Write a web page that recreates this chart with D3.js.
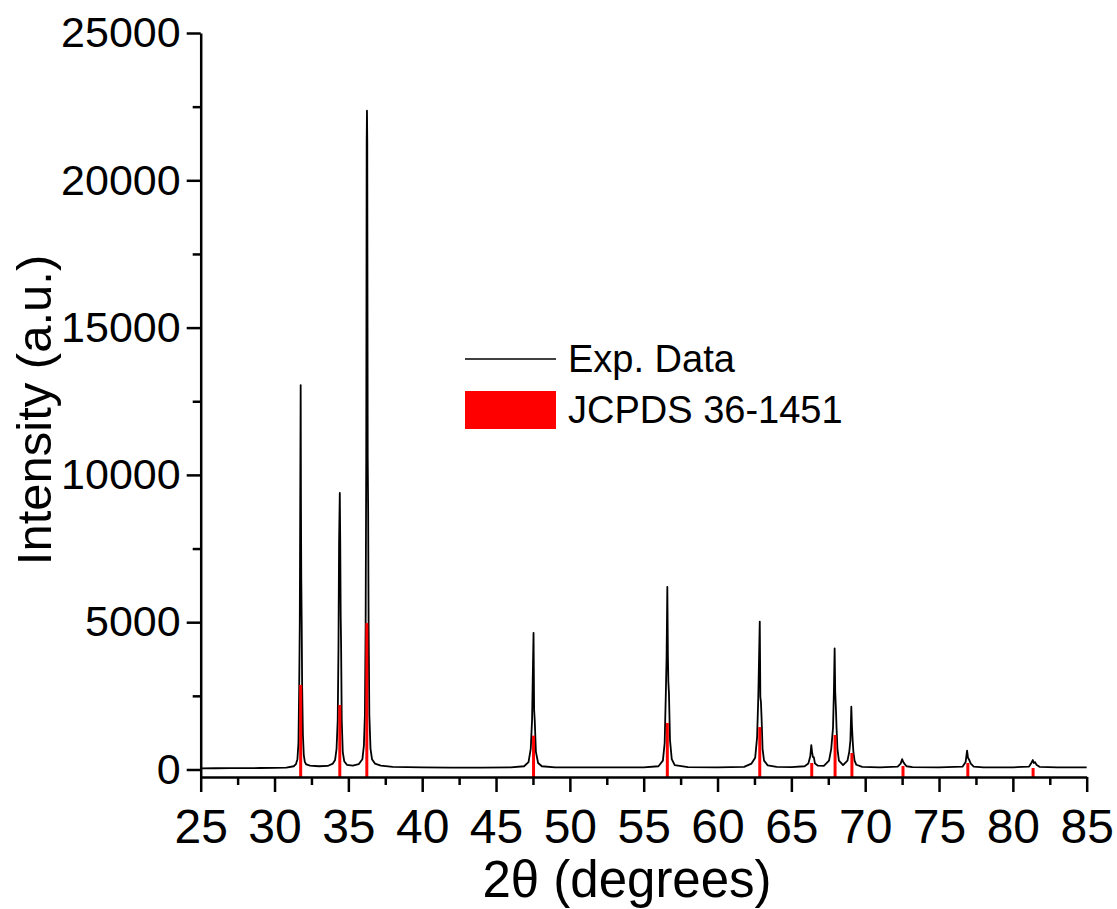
<!DOCTYPE html>
<html lang="en">
<head>
<meta charset="UTF-8">
<title>XRD pattern</title>
<script src="https://d3js.org/d3.v7.min.js"></script>
<style>
  body { margin: 0; background: #fff; }
  text { font-family: "Liberation Sans", Arial, sans-serif; fill: #000; }
</style>
</head>
<body>
<svg id="chart" width="1117" height="909"></svg>
<script>
  // measured pattern, 2theta (deg) and counts
  var twoTheta = [25, 26, 27, 28, 29, 30, 30.8, 31.3,
    31.45, 31.55, 31.62, 31.67, 31.71, 31.74, 31.77, 31.79, 31.81, 31.84, 31.87, 31.92, 31.98, 32.05, 32.15, 32.4, 33.0, 33.6, 33.95,
    34.1, 34.2, 34.28, 34.33, 34.37, 34.42, 34.45, 34.48, 34.51, 34.55, 34.62, 34.72, 34.9, 35.3, 35.7, 35.95,
    36.05, 36.12, 36.17, 36.21, 36.24, 36.26, 36.28, 36.31, 36.34, 36.37, 36.42, 36.5, 36.6, 36.8, 37.2, 38, 40, 42, 44, 46, 46.9,
    47.2, 47.35, 47.44, 47.5, 47.54, 47.58, 47.62, 47.7, 47.85, 48.1, 49, 51, 53, 55, 56,
    56.3, 56.42, 56.5, 56.55, 56.6, 56.64, 56.67, 56.71, 56.78, 56.9, 57.1, 58, 60, 61.8, 62.3,
    62.55, 62.68, 62.76, 62.82, 62.86, 62.9, 62.94, 62.98, 63.05, 63.15, 63.4, 64, 65, 65.9,
    66.15, 66.28, 66.35, 66.4, 66.46, 66.52, 66.6, 66.8, 67.2, 67.55,
    67.7, 67.82, 67.88, 67.93, 67.97, 68.02, 68.06, 68.12, 68.22, 68.5, 68.8,
    68.92, 69.0, 69.06, 69.1, 69.15, 69.2, 69.28, 69.4, 69.8, 71, 72.2,
    72.4, 72.5, 72.58, 72.65, 72.8, 73.2, 75, 76.6,
    76.8, 76.9, 76.96, 77.05, 77.15, 77.35, 78, 80, 81.1,
    81.25, 81.35, 81.42, 81.5, 81.6, 81.8, 83, 85];
  var counts = [40, 42, 45, 48, 50, 55, 65, 110,
    180, 350, 900, 2800, 5000, 9000, 13050, 9000, 6530, 4970, 2800, 1200, 500, 260, 170, 130, 110, 120, 200,
    320, 700, 1680, 4120, 7690, 9390, 7690, 5250, 4120, 1680, 600, 280, 160, 130, 180, 350,
    800, 1850, 4970, 10600, 21310, 22360, 21310, 10600, 8800, 4970, 1850, 700, 350, 200, 130, 90, 70, 65, 65, 70, 110,
    250, 700, 1680, 3500, 4640, 2020, 1680, 600, 220, 110, 75, 70, 70, 75, 110,
    300, 900, 2600, 3820, 6200, 3820, 2970, 2600, 1000, 350, 150, 80, 75, 90, 200,
    400, 1100, 2460, 4000, 5020, 2460, 2290, 1780, 700, 300, 140, 90, 80, 110,
    200, 450, 830, 600, 420, 420, 200, 130, 120, 300,
    700, 1410, 2640, 4110, 2640, 2020, 1410, 700, 300, 150, 300,
    600, 1000, 2130, 1500, 1000, 600, 300, 160, 90, 75, 100,
    200, 350, 250, 200, 110, 80, 75, 100,
    250, 640, 400, 320, 200, 100, 75, 75, 100,
    220, 320, 220, 250, 160, 90, 70, 70];

  // reference card lines (scaled)
  var refPos = [31.77, 34.42, 36.25, 47.54, 56.6, 62.86, 66.38, 67.96, 69.1, 72.56, 76.95, 81.37];
  var refInt = [2870, 2190, 4970, 1150, 1580, 1440, 220, 1170, 560, 120, 220, 50];

  var xMajor = d3.range(25, 86, 5);
  var xMinor = d3.range(27.5, 85, 5);
  var yMajor = [0, 5000, 10000, 15000, 20000, 25000];
  var yMinor = [2500, 7500, 12500, 17500, 22500];

  var svg = d3.select("#chart");
  var mLeft = 200.7, mRight = 1086.7, mTop = 33, mBottom = 777;

  var x = d3.scaleLinear().domain([25, 85]).range([mLeft, mRight]);
  var y = d3.scaleLinear().domain([-255, 25000]).range([mBottom, mTop]);

  var pts = twoTheta.map(function (t, i) { return [t, counts[i]]; });

  svg.append("path")
    .datum(pts)
    .attr("fill", "none")
    .attr("stroke", "#000")
    .attr("stroke-width", 1.8)
    .attr("stroke-linejoin", "round")
    .attr("d", d3.line()
      .x(function (d) { return x(d[0]); })
      .y(function (d) { return y(d[1]); }));

  svg.append("g")
    .selectAll("line")
    .data(refPos)
    .enter()
    .append("line")
    .attr("x1", function (d) { return x(d); })
    .attr("x2", function (d) { return x(d); })
    .attr("y1", y(-255))
    .attr("y2", function (d, i) { return y(refInt[i]); })
    .attr("stroke", "#ff0000")
    .attr("stroke-width", 3);

  // axes
  var xAxis = svg.append("g")
    .attr("transform", "translate(0," + mBottom + ")")
    .call(d3.axisBottom(x).tickValues(xMajor).tickSize(15).tickSizeOuter(0)
      .tickFormat(d3.format("d")));
  svg.append("g")
    .attr("transform", "translate(0," + mBottom + ")")
    .call(d3.axisBottom(x).tickValues(xMinor).tickSize(8).tickSizeOuter(0).tickFormat(""))
    .select(".domain").remove();

  var yAxis = svg.append("g")
    .attr("transform", "translate(" + mLeft + ",0)")
    .call(d3.axisLeft(y).tickValues(yMajor).tickSize(14).tickSizeOuter(0).tickPadding(6)
      .tickFormat(d3.format("d")));
  svg.append("g")
    .attr("transform", "translate(" + mLeft + ",0)")
    .call(d3.axisLeft(y).tickValues(yMinor).tickSize(8).tickSizeOuter(0).tickFormat(""))
    .select(".domain").remove();

  svg.selectAll(".domain, .tick line")
    .attr("stroke", "#000")
    .attr("stroke-width", 2.5);

  xAxis.selectAll("text")
    .attr("y", 66)
    .attr("dy", 0)
    .style("font-size", "48px")
    .style("font-family", "'Liberation Sans', Arial, sans-serif");
  yAxis.selectAll("text")
    .style("font-size", "43px")
    .style("font-family", "'Liberation Sans', Arial, sans-serif");

  // titles
  svg.append("text")
    .attr("x", 627)
    .attr("y", 897)
    .attr("text-anchor", "middle")
    .style("font-size", "51px")
    .text("2θ (degrees)");

  svg.append("text")
    .attr("transform", "translate(51," + ((mTop + mBottom) / 2 + 5) + ") rotate(-90)")
    .attr("text-anchor", "middle")
    .style("font-size", "49px")
    .text("Intensity (a.u.)");

  // legend
  var legend = svg.append("g");
  legend.append("line")
    .attr("x1", 465).attr("x2", 556)
    .attr("y1", 359).attr("y2", 359)
    .attr("stroke", "#000")
    .attr("stroke-width", 1.6);
  legend.append("text")
    .attr("x", 568).attr("y", 372)
    .style("font-size", "38px")
    .text("Exp. Data");
  legend.append("rect")
    .attr("x", 465).attr("y", 391)
    .attr("width", 91).attr("height", 38)
    .attr("fill", "#ff0000");
  legend.append("text")
    .attr("x", 568).attr("y", 423)
    .style("font-size", "38px")
    .text("JCPDS 36-1451");
</script>
</body>
</html>
